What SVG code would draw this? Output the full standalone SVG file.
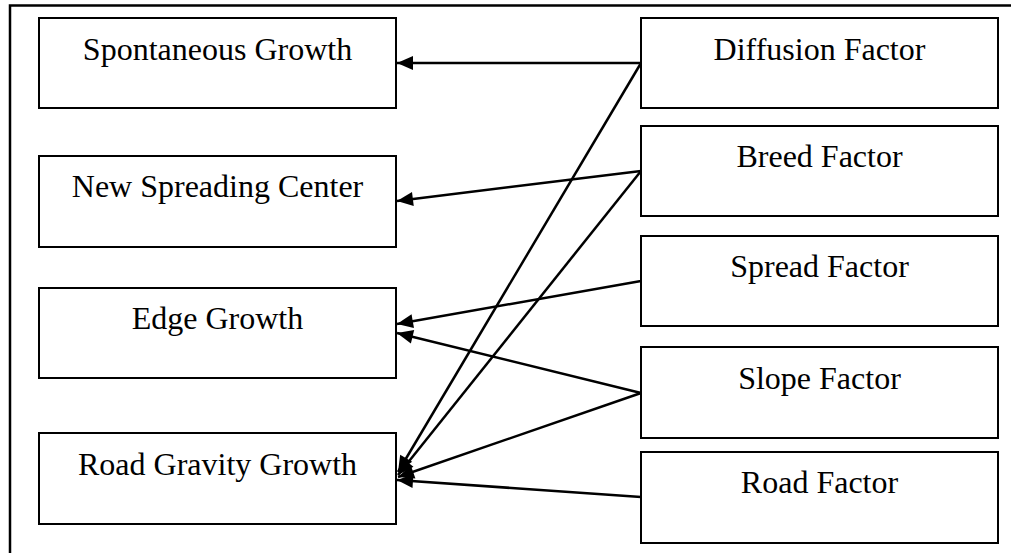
<svg xmlns="http://www.w3.org/2000/svg" width="1011" height="553" viewBox="0 0 1011 553">
  <style>
    .box { fill: #ffffff; stroke: #000000; stroke-width: 2; }
    .label { font-family: "Liberation Serif", "Times New Roman", serif; font-size: 32px; fill: #000000; text-anchor: middle; }
    .edge { fill: none; stroke: #000000; stroke-width: 2.5; marker-end: url(#arrow); }
    .frame { fill: none; stroke: #000000; stroke-width: 2.5; }
  </style>
  <defs>
    <marker id="arrow" markerUnits="userSpaceOnUse" markerWidth="18" markerHeight="16" refX="16" refY="7" orient="auto" overflow="visible">
      <path d="M0,0 L16,7 L0,14 z" fill="#000000"/>
    </marker>
  </defs>

  <rect width="1011" height="553" fill="#ffffff"/>

  <!-- outer frame: top and left border only -->
  <path class="frame" d="M10,553 L10,5.5 L1011,5.5"/>

  <!-- growth types (left column) -->
  <g id="spontaneous-growth">
    <rect class="box" x="39" y="18" width="357" height="90"/>
    <text class="label" x="217.5" y="60">Spontaneous Growth</text>
  </g>
  <g id="new-spreading-center">
    <rect class="box" x="39" y="156" width="357" height="91"/>
    <text class="label" x="217.5" y="197">New Spreading Center</text>
  </g>
  <g id="edge-growth">
    <rect class="box" x="39" y="288" width="357" height="90"/>
    <text class="label" x="217.5" y="329">Edge Growth</text>
  </g>
  <g id="road-gravity-growth">
    <rect class="box" x="39" y="433" width="357" height="91"/>
    <text class="label" x="217.5" y="475">Road Gravity Growth</text>
  </g>

  <!-- growth coefficients (right column) -->
  <g id="diffusion-factor">
    <rect class="box" x="641" y="18" width="357" height="90"/>
    <text class="label" x="819.5" y="60">Diffusion Factor</text>
  </g>
  <g id="breed-factor">
    <rect class="box" x="641" y="126" width="357" height="90"/>
    <text class="label" x="819.5" y="167">Breed Factor</text>
  </g>
  <g id="spread-factor">
    <rect class="box" x="641" y="236" width="357" height="90"/>
    <text class="label" x="819.5" y="277">Spread Factor</text>
  </g>
  <g id="slope-factor">
    <rect class="box" x="641" y="347" width="357" height="91"/>
    <text class="label" x="819.5" y="389">Slope Factor</text>
  </g>
  <g id="road-factor">
    <rect class="box" x="641" y="452" width="357" height="91"/>
    <text class="label" x="819.5" y="493">Road Factor</text>
  </g>

  <!-- connectors -->
  <g id="connectors">
    <line class="edge" x1="641" y1="63" x2="397" y2="63"/>
    <line class="edge" x1="641" y1="63" x2="398" y2="472"/>
    <line class="edge" x1="641" y1="171" x2="397" y2="201"/>
    <line class="edge" x1="641" y1="171" x2="398" y2="475"/>
    <line class="edge" x1="641" y1="281" x2="397" y2="324"/>
    <line class="edge" x1="641" y1="393" x2="397" y2="333"/>
    <line class="edge" x1="641" y1="393" x2="398" y2="477"/>
    <line class="edge" x1="641" y1="497" x2="397" y2="480"/>
  </g>
</svg>
